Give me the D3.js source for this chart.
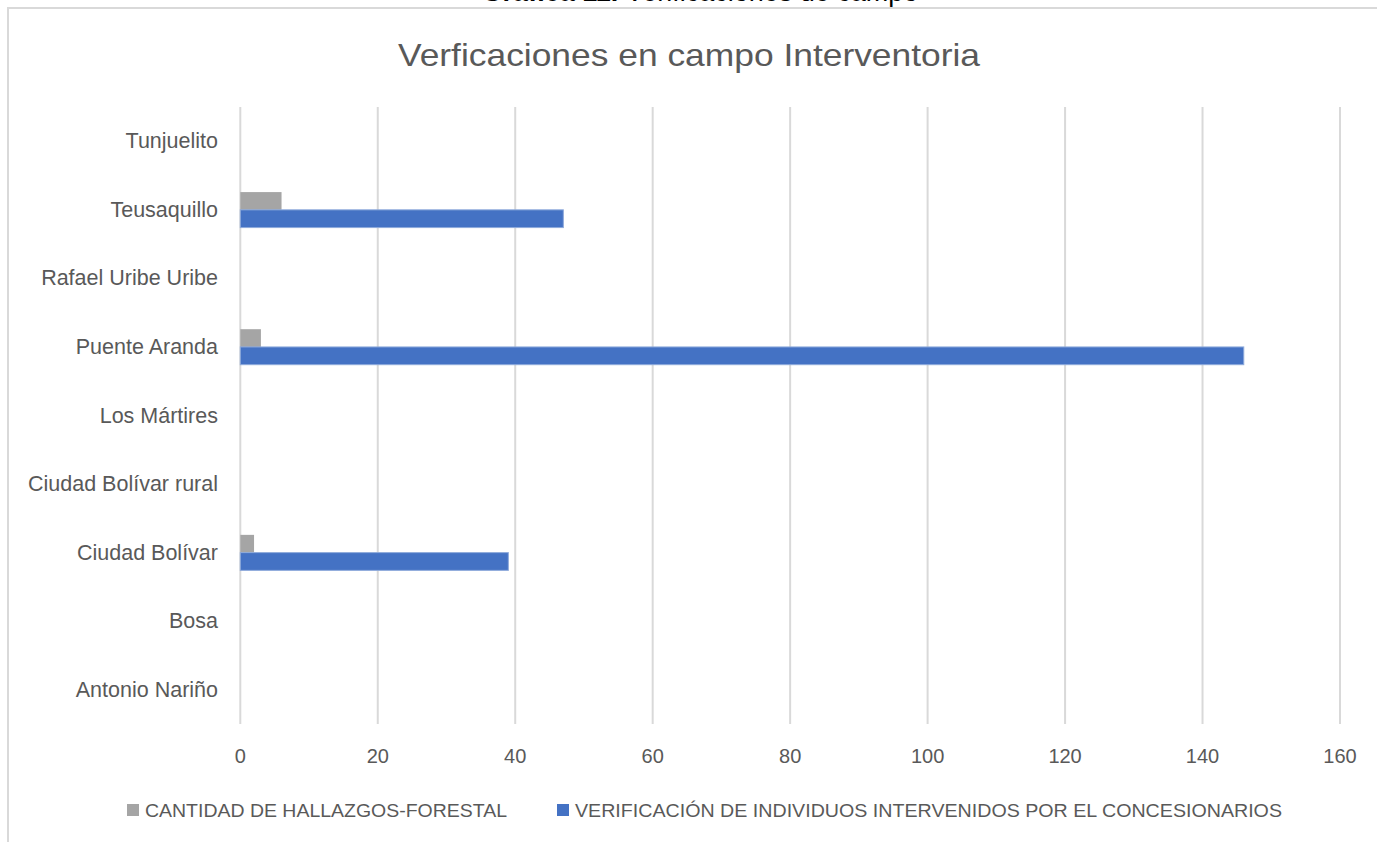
<!DOCTYPE html>
<html>
<head>
<meta charset="utf-8">
<title>Verficaciones en campo Interventoria</title>
<script src="https://cdn.jsdelivr.net/npm/d3@7"></script>
<style>
  body { margin: 0; background: #fff; }
  svg text { font-family: "Liberation Sans", Arial, sans-serif; }
</style>
</head>
<body>
<script>
// data
const categories = ["Antonio Nariño", "Bosa", "Ciudad Bolívar", "Ciudad Bolívar rural",
  "Los Mártires", "Puente Aranda", "Rafael Uribe Uribe", "Teusaquillo", "Tunjuelito"];
const hallazgos = [0, 0, 2, 0, 0, 3, 0, 6, 0];
const verificacion = [0, 0, 39, 0, 0, 146, 0, 47, 0];
const xTicks = [0, 20, 40, 60, 80, 100, 120, 140, 160];
const seriesNames = ["CANTIDAD DE HALLAZGOS-FORESTAL", "VERIFICACIÓN DE INDIVIDUOS INTERVENIDOS POR EL CONCESIONARIOS"];
const seriesColors = ["#a5a5a5", "#4472c4"];

const W = 1377, H = 842;
const svg = d3.select("body").append("svg").attr("width", W).attr("height", H);

// caption above the chart frame, cut off by the top edge as in the source
const cap = svg.append("text").attr("x", 700).attr("y", 1).attr("text-anchor", "middle")
  .style("font-size", "27px").attr("fill", "#000");
cap.append("tspan").style("font-weight", "bold").text("Gráfica 11.");
cap.append("tspan").text(" Verificaciones de campo");

// chart frame (only top and left edges show)
svg.append("path").attr("d", "M8,843 L8,8 L1378,8")
  .attr("fill", "none").attr("stroke", "#d9d9d9").attr("stroke-width", 2);

svg.append("text").attr("x", 689).attr("y", 55).attr("text-anchor", "middle")
  .attr("dominant-baseline", "central").style("font-size", "32px").attr("fill", "#595959")
  .attr("textLength", 582).attr("lengthAdjust", "spacingAndGlyphs")
  .text("Verficaciones en campo Interventoria");

const x = d3.scaleLinear().domain([0, 160]).range([240.3, 1340]);
const y = d3.scaleBand().domain(categories.slice().reverse()).range([107, 724]);
const inner = d3.scaleBand().domain([0, 1]).range([0, 35.5]);

// gridlines
svg.append("g").selectAll("line").data(xTicks).join("line")
  .attr("x1", d => x(d)).attr("x2", d => x(d))
  .attr("y1", 107).attr("y2", 724)
  .attr("stroke", "#d9d9d9").attr("stroke-width", 2);

// x tick labels
svg.append("g").selectAll("text").data(xTicks).join("text")
  .attr("x", d => x(d)).attr("y", 756)
  .attr("text-anchor", "middle").attr("dominant-baseline", "central")
  .style("font-size", "20px").attr("fill", "#595959")
  .text(d => d);

// category labels
svg.append("g").selectAll("text").data(categories).join("text")
  .attr("x", 218).attr("y", d => y(d) + y.bandwidth() / 2)
  .attr("text-anchor", "end").attr("dominant-baseline", "central")
  .style("font-size", "21.5px").attr("fill", "#595959")
  .text(d => d);

// bars
const rows = categories.map((c, i) => ({ c, vals: [hallazgos[i], verificacion[i]] }));
const g = svg.append("g");
rows.forEach(r => {
  const top = y(r.c) + y.bandwidth() / 2 - 17.75;
  r.vals.forEach((v, s) => {
    if (v <= 0) return;
    g.append("rect")
      .attr("x", x(0)).attr("y", top + inner(s))
      .attr("width", x(v) - x(0)).attr("height", inner.bandwidth())
      .attr("fill", seriesColors[s])
      .attr("stroke", s === 1 ? "#8eaadb" : "none").attr("stroke-width", 1);
  });
});

// legend
const legX = [127, 557];
const legW = [362, 707];
const leg = svg.append("g").selectAll("g").data(seriesNames).join("g");
leg.append("rect").attr("x", (d, i) => legX[i]).attr("y", 804)
  .attr("width", 12).attr("height", 12).attr("fill", (d, i) => seriesColors[i]);
leg.append("text").attr("x", (d, i) => legX[i] + 18).attr("y", 810)
  .attr("dominant-baseline", "central").style("font-size", "19px").attr("fill", "#595959")
  .attr("textLength", (d, i) => legW[i]).attr("lengthAdjust", "spacingAndGlyphs")
  .text(d => d);
</script>
</body>
</html>
